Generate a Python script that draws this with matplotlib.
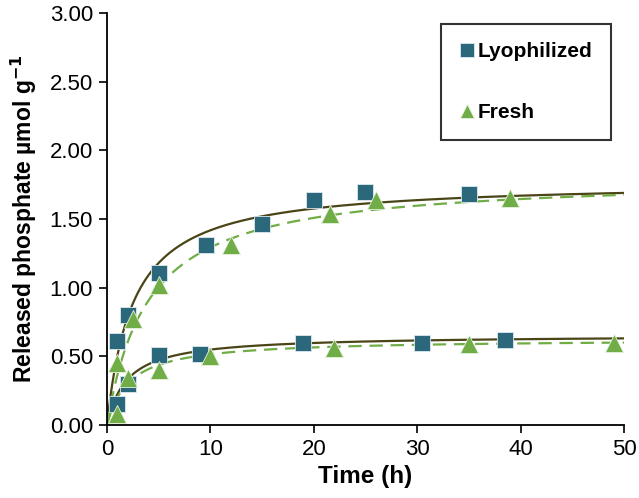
import numpy as np
import matplotlib
matplotlib.use("Agg")
import matplotlib.pyplot as plt

plt.rcParams['font.family'] = ['Liberation Sans', 'DejaVu Sans']

# measured points, two loadings per treatment (upper / lower)
lyo_hi_t = [1, 2, 5, 9.6, 15, 20, 25, 35]
lyo_hi_q = [0.61, 0.80, 1.11, 1.31, 1.46, 1.64, 1.70, 1.68]
fresh_hi_t = [1, 2.5, 5, 12, 21.6, 26, 39]
fresh_hi_q = [0.45, 0.77, 1.02, 1.31, 1.54, 1.64, 1.65]

lyo_lo_t = [1, 2, 5, 9, 19, 30.5, 38.5]
lyo_lo_q = [0.15, 0.30, 0.51, 0.52, 0.60, 0.60, 0.62]
fresh_lo_t = [1, 2, 5, 10, 22, 35, 49]
fresh_lo_q = [0.08, 0.34, 0.40, 0.50, 0.56, 0.59, 0.60]

# fitted curve parameters q = qmax * t / (k + t)
lyo_hi_fit = (1.775, 2.52)
fresh_hi_fit = (1.81, 4.0)
lyo_lo_fit = (0.655, 1.93)
fresh_lo_fit = (0.626, 2.16)

sq_color = '#2C687C'
tri_color = '#70AD47'
solid_color = '#4A4516'

fig = plt.figure(figsize=(6.39, 4.98), dpi=100)
ax = fig.add_axes([0.1674, 0.1466, 0.8091, 0.8273])

t = np.linspace(0, 50, 400)
for qmax, k in [lyo_hi_fit, lyo_lo_fit]:
    ax.plot(t, qmax * t / (k + t), color=solid_color, lw=1.6, zorder=2)
for qmax, k in [fresh_hi_fit, fresh_lo_fit]:
    ax.plot(t, qmax * t / (k + t), color=tri_color, lw=1.6, ls=(0, (6, 3.5)), zorder=2)

ax.plot(lyo_hi_t, lyo_hi_q, 's', ms=11, color=sq_color, mec='#dde8f0', mew=0.6, zorder=3,
        label='Lyophilized')
ax.plot(lyo_lo_t, lyo_lo_q, 's', ms=11, color=sq_color, mec='#dde8f0', mew=0.6, zorder=3)
ax.plot(fresh_hi_t, fresh_hi_q, '^', ms=13, color=tri_color, mec='#e8f2e0', mew=0.6, zorder=4,
        label='Fresh')
ax.plot(fresh_lo_t, fresh_lo_q, '^', ms=13, color=tri_color, mec='#e8f2e0', mew=0.6, zorder=4)

ax.set_xlim(0, 50)
ax.set_ylim(0, 3)
ax.set_xticks([0, 10, 20, 30, 40, 50])
ax.set_yticks(np.arange(0, 3.01, 0.5))
ax.set_yticklabels(['%.2f' % v for v in np.arange(0, 3.01, 0.5)])
ax.tick_params(labelsize=16, width=1.2, length=6, color='black', pad=4)
for s in ['top', 'right']:
    ax.spines[s].set_visible(False)
for s in ['left', 'bottom']:
    ax.spines[s].set_linewidth(1.3)

ax.set_xlabel('Time (h)', fontsize=17.5, fontweight='bold', labelpad=4)
ax.set_ylabel(r'Released phosphate µmol g$^{\mathbf{-1}}$', fontsize=16.5, fontweight='bold', labelpad=8)

leg = ax.legend(loc='upper right', bbox_to_anchor=(0.975, 0.973), frameon=True, fancybox=False,
                edgecolor='black', prop={'size': 15, 'weight': 'bold'}, handlelength=0.7,
                handletextpad=0.2, labelspacing=2.0, borderpad=0.88, borderaxespad=0)
leg.get_frame().set_linewidth(1.5)
for h in leg.legend_handles:
    h.set_markersize(10)

fig.savefig('out.png', dpi=100)
